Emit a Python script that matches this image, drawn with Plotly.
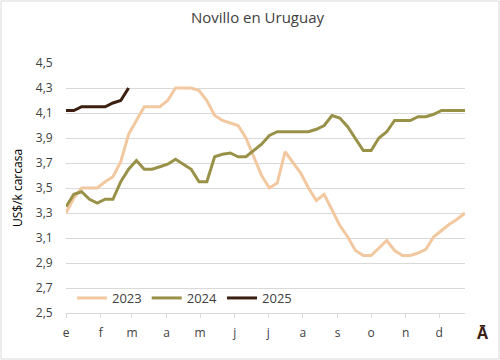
import plotly.graph_objects as go

weeks = list(range(52))

y2023 = [3.30, 3.42, 3.50, 3.50, 3.50, 3.55, 3.59, 3.71, 3.93, 4.04,
         4.15, 4.15, 4.15, 4.20, 4.30, 4.30, 4.30, 4.28, 4.20, 4.08,
         4.04, 4.02, 4.00, 3.90, 3.75, 3.60, 3.50, 3.54, 3.79, 3.70,
         3.62, 3.50, 3.40, 3.45, 3.33, 3.20, 3.11, 3.00, 2.96, 2.96,
         3.02, 3.08, 3.00, 2.96, 2.96, 2.98, 3.01, 3.11, 3.16, 3.21,
         3.25, 3.30]

y2024 = [3.35, 3.45, 3.47, 3.41, 3.38, 3.41, 3.41, 3.55, 3.65, 3.72,
         3.65, 3.65, 3.67, 3.69, 3.73, 3.69, 3.65, 3.55, 3.55, 3.75,
         3.77, 3.78, 3.75, 3.75, 3.80, 3.85, 3.92, 3.95, 3.95, 3.95,
         3.95, 3.95, 3.97, 4.00, 4.08, 4.06, 3.99, 3.90, 3.80, 3.80,
         3.90, 3.95, 4.04, 4.04, 4.04, 4.07, 4.07, 4.09, 4.12, 4.12,
         4.12, 4.12]

y2025 = [4.12, 4.12, 4.15, 4.15, 4.15, 4.15, 4.18, 4.20, 4.30]

month_days = [0, 31, 59, 90, 120, 151, 181, 212, 243, 273, 304, 334]
month_labels = ["e", "f", "m", "a", "m", "j", "j", "a", "s", "o", "n", "d"]
y_ticks = [2.5, 2.7, 2.9, 3.1, 3.3, 3.5, 3.7, 3.9, 4.1, 4.3, 4.5]

series = [
    ("2023", y2023, "#F2C8A0"),
    ("2024", y2024, "#9A9149"),
    ("2025", y2025, "#3B2012"),
]

fig = go.Figure()
for name, ys, color in series:
    fig.add_trace(go.Scatter(
        x=weeks[:len(ys)], y=ys, name=name, mode="lines",
        line=dict(color=color, width=3),
    ))

fig.update_layout(
    width=500, height=360,
    margin=dict(l=66, r=35, t=63, b=47),
    paper_bgcolor="white", plot_bgcolor="white",
    separators=", ",
    font=dict(family="Open Sans", size=12, color="#404040"),
    title=dict(text="Novillo en Uruguay", x=0.48, xref="paper",
               y=1 - 18 / 360, yanchor="middle",
               font=dict(size=15, color="#404040")),
    showlegend=True,
    legend=dict(orientation="h", x=0.015, y=0.06, xanchor="left",
                yanchor="middle", bgcolor="rgba(0,0,0,0)",
                font=dict(size=13, color="#404040"),
                itemwidth=30),
    xaxis=dict(range=[0, 51], tickvals=[d / 7 for d in month_days],
               ticktext=month_labels, showgrid=False, zeroline=False,
               showline=True, linecolor="#D9D9D9", linewidth=1,
               ticks="outside", ticklen=4, tickcolor="#D9D9D9",
               ticklabelstandoff=5,
               tickfont=dict(size=12, color="#404040")),
    yaxis=dict(range=[2.5, 4.5], tickvals=y_ticks, tickformat=".1f",
               showgrid=True, gridcolor="#D9D9D9", gridwidth=1,
               zeroline=False, showline=False,
               ticks="outside", ticklen=10, tickcolor="rgba(0,0,0,0)",
               title=dict(text="US$/k carcasa", standoff=10,
                          font=dict(size=12, color="#000000")),
               tickfont=dict(size=12, color="#404040")),
)

fig.add_annotation(text="<b>Ā</b>", xref="paper", yref="paper",
                   x=(491 - 66) / 399, y=(313 - 346) / 250,
                   showarrow=False, font=dict(size=16, color="#3B2012"))

fig.add_shape(type="rect", xref="paper", yref="paper",
              x0=(1 - 66) / 399, x1=(499 - 66) / 399,
              y0=(313 - 359) / 250, y1=(313 - 1) / 250,
              line=dict(color="#D9D9D9", width=1), layer="below")

fig.write_html("out.html", config={"displayModeBar": False},
               post_script="document.body.style.margin='0';")
